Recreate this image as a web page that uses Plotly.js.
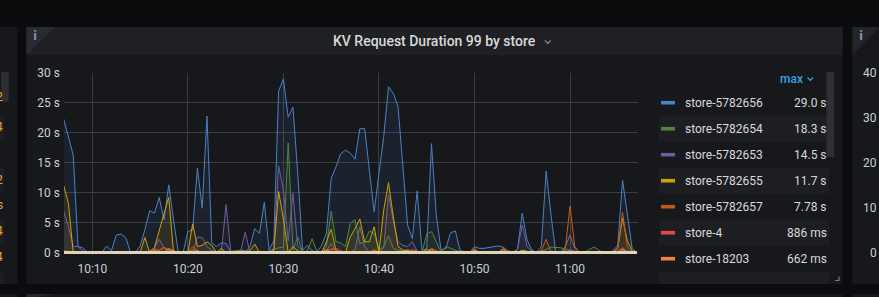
<!DOCTYPE html>
<html><head><meta charset="utf-8">
<script src="https://cdn.plot.ly/plotly-3.0.1.min.js"></script>
<style>html,body{margin:0;padding:0;background:#0b0c0e;overflow:hidden}#chart{width:879px;height:297px}</style>
</head><body><div id="chart"></div>
<script>
// ---------------- data ----------------
const chartTitle = 'KV Request Duration 99 by store';
const startClock = [10, 7, 0];      // first sample 10:07:00
const stepSeconds = 30;
const dayPrefix = '2020-06-01 ';
const xTickLabelsFormat = '%H:%M';
const yTickSuffix = ' s';

const seriesNames = ['store-5782656','store-5782654','store-5782653','store-5782655','store-5782657','store-4','store-18203'];
const seriesColors = ['#4a82c3','#508642','#705da0','#cca300','#c15c17','#e24d42','#ef843c'];

const store5782656 = [
 22.3,19.3,16.3,1.0,0.8,0,0,0,0,1.1,
 0.3,2.9,3.1,2.5,0,0,1.1,3.8,7.0,6.6,
 9.2,5.5,11.3,5.4,0,0,3.5,3.8,14.1,7.4,
 22.8,1.6,1.0,1.6,1.5,0,0,0.4,0,1.0,
 4.0,3.2,8.4,0.4,2.0,27.0,29.0,22.6,24.3,13.2,
 0.4,1.2,0.3,0.1,1.2,3.2,12.4,14.3,16.5,17.1,
 16.6,15.6,20.7,20.7,13.8,6.8,13.2,19.4,27.7,26.6,
 24.4,14.9,4.6,2.3,10.3,0.4,0.6,18.2,6.3,0.4,
 0.7,3.3,3.6,0.3,0.1,0,1.0,0.7,0.7,0.8,
 1.0,1.1,0.9,0.3,0.1,0.5,6.6,2.1,0.4,0,
 1.0,13.6,6.5,0,0,1.0,2.9,0.7,0,0,
 0,0.2,0,0.1,0,0.3,1.2,12.1,6.5,0.7,0];
const store5782654 = [
 0,0,0,0,0,0,0,0,0,0,
 0,0,0,0,0,0,0,0,0,0.1,
 0.2,0.1,0,0,0,0,0,0,0,0,
 0,0,0,0,0.1,0.2,0.3,0.4,0.3,0.2,
 0,0,0,0.2,0.5,0.8,0.9,18.3,0.5,2.6,
 0,0.3,2.3,0.2,0,1.0,6.9,1.8,1.6,1.0,
 4.9,5.5,1.5,1.8,3.6,3.2,0.4,1.0,2.8,0.7,
 0.4,0.3,0.5,0.2,0.1,0,3.1,3.5,1.8,0.1,
 1.0,0.7,0.3,0.1,0,0,0,0,0,0,
 0,0,0,0,0,0,0.2,0.1,0,0,
 0.3,0.5,0.9,0.9,0.8,0.6,0.3,0.1,0,0,
 0.5,0.9,0.4,0,0,0,0,0.2,0,0,0];
const store5782653 = [
 6.9,4.3,1.0,1.0,0.3,0,0,0,0,0,
 0,0,0,0,0,0,0,0,0.3,0.8,
 2.2,0.8,0.5,0.3,0,0,0,0,2.6,2.5,
 1.0,0.4,0,0,8.0,0,0,0,3.4,0,
 0,0,0,0,0.8,14.5,10.4,2.0,9.9,1.0,
 0.3,0,0,0,0,0.3,1.5,0.4,0,0,
 0,0.5,4.3,1.0,0,0,0,0.8,9.6,5.4,
 1.8,1.2,1.0,1.8,0.2,0,0,0,0,0,
 0,0,0,0,0,0,0,0,0,0,
 0,0,0,0,0,0.5,4.6,1.0,0.2,0,
 0,0,0,0,0,0,0.5,0.3,0,0,
 0,0,0,0,0,0,0.2,0.8,0.3,0,0];
const store5782655 = [
 11.2,8.2,0,0,0,0,0,0,0,0,
 0,0,0,0,0,0,0,2.5,0,0.8,
 3.8,6.5,9.2,0,0,0,0,4.8,1.0,1.2,
 1.8,1.2,0,0.7,0,0,0,0,0,0.3,
 1.4,0,0,0,0.4,10.2,5.6,0,1.0,0.3,
 0,0,0,0,0,1.8,3.9,0.4,0,0,
 2.6,4.0,5.6,1.8,1.8,4.3,0,7.1,11.7,6.0,
 1.0,0.4,0.3,0.2,0,0,0.5,0.2,0,0,
 0,0,0,0,0,0,0.3,0,0,0.2,
 0.1,0,0.2,0,0,0,0.4,0.2,0,0,
 0,0,0,0,0,0,0,0,0,0,
 0,0,0,0,0,0,0.8,5.7,2.0,0.3,0];
const store5782657 = [
 0.3,0.2,0,0,0,0,0,0,0,0,
 0,0,0,0,0,0,0,0,0.3,0.6,
 0.4,0.8,0.5,0.2,0,0,0,1.0,0.3,0,
 0,0,0,0,0,0,0,0,0,0,
 0,0,0,0,0,0,0,0,0,0,
 0,0,0,0,0,0.4,0.5,0.4,0,0,
 0,0,0,0,0,0.3,0.2,0,0,0,
 0,0,0,0.3,0,0,0,0.7,0.3,0,
 0,0,0,0,0,0,0.7,0,0,0,
 0,0,0.7,0,0,0,0,0,0,0,
 0.3,2.2,0.2,0,0,0.5,7.78,1.0,0,0,
 0,0,0,0,0,0,0.6,6.7,1.0,0,0];
const store4 = [
 0,0,0,0,0,0,0,0,0,0,
 0,0,0,0,0,0,0,0,0,0,
 0.4,0.886,0.3,0,0,0,0,0.5,0.2,0,
 0,0,0,0,0,0,0,0,0,0,
 0,0,0,0,0,0,0,0,0,0,
 0,0,0,0,0,0,0.6,0.7,0.3,0,
 0,0,0,0,0,0.5,0,0,0,0,
 0,0,0,0.5,0.2,0,0,0,0,0,
 0,0,0,0,0,0,0,0,0,0,
 0,0,0,0,0,0,0,0,0.3,0,
 0,0,0,0,0,0.3,0,0,0,0,
 0,0,0,0,0,0,0,0.6,0,0,0];
const store18203 = [
 0,0,0,0,0,0,0,0,0,0,
 0,0,0,0,0,0,0,0,0,0.4,
 0,0,0.662,0.3,0,0,0,0,0.3,0,
 0,0,0,0,0,0,0,0,0,0,
 0,0,0,0,0,0,0,0,0,0,
 0,0,0,0,0,0.5,0,0,0,0,
 0,0,0,0,0,0,0,0,0,0,
 0,0,0,0,0,0,0,0.6,0,0,
 0,0,0,0,0,0,0.4,0,0,0,
 0,0,0.5,0,0,0,0,0,0,0,
 0,0,0,0,0,0,0,0,0,0,
 0,0,0,0,0,0,0,0.5,0,0,0];
// the many other stores that sit on 0 (drawn as the pale band)
const otherStoresName = 'store-other';
const otherStoresColor = '#e2d5b6';
const otherStores = [
 0,0,0,0,0,0,0,0,0,0, 0,0,0,0,0,0,0,0,0,0, 0,0,0,0,0,0,0,0,0,0,
 0,0,0,0,0,0,0,0,0,0, 0,0,0,0,0,0,0,0,0,0, 0,0,0,0,0,0,0,0,0,0,
 0,0,0,0,0,0,0,0,0,0, 0,0,0,0,0,0,0,0,0,0, 0,0,0,0,0,0,0,0,0,0,
 0,0,0,0,0,0,0,0,0,0, 0,0,0,0,0,0,0,0,0,0, 0,0,0,0,0,0,0,0,0,0, 0];
const seriesValues = [store5782656,store5782654,store5782653,store5782655,store5782657,store4,store18203];

// neighbouring panels (partly visible text)
const leftPanelDigits = ['2','4','2','s','4','4'];
const rightPanelTicks = ['40','30','20','10','0'];

// ---------------- helpers ----------------
const W = 879, H = 297;
const X = p => p / W;
const Y = p => 1 - p / H;
function pad(n){ return (n < 10 ? '0' : '') + n; }
function clock(sec){ return dayPrefix + pad(Math.floor(sec/3600)) + ':' + pad(Math.floor(sec%3600/60)) + ':' + pad(sec%60); }
const t0 = startClock[0]*3600 + startClock[1]*60 + startClock[2];
const times = store5782656.map((_, i) => clock(t0 + i*stepSeconds));
function hexA(hex, a){ const n = parseInt(hex.slice(1),16); return `rgba(${n>>16},${(n>>8)&255},${n&255},${a})`; }
function fmt(v){ return v >= 1 ? v.toPrecision(3) + ' s' : Math.round(v*1000) + ' ms'; }

const FONT = 'Roboto, "Helvetica Neue", Arial, sans-serif';
const PANEL = '#17181c', HEADER = '#1f2024', BG = '#0b0c0e';

// ---------------- traces ----------------
const traces = seriesValues.map((vals, k) => ({
  type:'scatter', mode:'lines', x:times, y:vals, name:seriesNames[k],
  line:{color:seriesColors[k], width:1}, fill:'tozeroy', fillcolor:hexA(seriesColors[k],0.1),
  hoverinfo:'skip'
}));
traces.push({type:'scatter', mode:'lines', x:times, y:otherStores, name:otherStoresName,
  line:{color:otherStoresColor, width:3}, hoverinfo:'skip'});

// ---------------- shapes ----------------
function rect(x0,y0,x1,y1,color,layer){ return {type:'rect',xref:'paper',yref:'paper',x0:X(x0),x1:X(x1),y0:Y(y1),y1:Y(y0),fillcolor:color,line:{width:0},layer:layer||'below'}; }
function path(pts,fill,stroke,w,layer,closed){
  let d = pts.map((p,i)=>(i?'L':'M')+X(p[0]).toFixed(5)+','+Y(p[1]).toFixed(5)).join(' ') + (closed?' Z':'');
  return {type:'path',xref:'paper',yref:'paper',path:d,fillcolor:fill||'rgba(0,0,0,0)',line:{color:stroke||'rgba(0,0,0,0)',width:w||0},layer:layer||'below'};
}
const shapes = [];
// main panel
shapes.push(rect(26.5,27,842.5,284,PANEL));
shapes.push(rect(26.5,27,842.5,55,HEADER));
shapes.push(path([[26.5,27],[55,27],[26.5,55]],'#292b30',null,0,'below',true));
// left panel
shapes.push(rect(-2,27,17.3,284,PANEL));
[[115,141],[167,193],[219,245],[271,284]].forEach(r=>shapes.push(rect(-2,r[0],4,r[1],'#1d1e22')));
shapes.push(rect(1,72,8.7,101.7,'#2c2e33'));
// right panel
shapes.push(rect(852.5,27,881,284,PANEL));
shapes.push(path([[852.5,27],[880,27],[852.5,55]],'#222428',null,0,'below',true));
// bottom row panels
shapes.push(rect(-2,294,17.3,299,PANEL));
shapes.push(rect(26.5,294,842.5,299,PANEL));
shapes.push(path([[26.5,294],[54,294],[26.5,299]],'#26282c',null,0,'below',true));
shapes.push(rect(852.5,294,881,299,PANEL));
// legend stripes
const rowY0 = 102.7, rowStep = 26;
for (let r = 1; r < 8; r += 2) shapes.push(rect(659,rowY0+r*rowStep-13,829,Math.min(rowY0+r*rowStep+13,284),'#1d1e22'));
// legend swatches
seriesColors.forEach((c,k)=>shapes.push(rect(661,rowY0+k*rowStep-1.8,675,rowY0+k*rowStep+1.8,c)));
// legend scrollbar
shapes.push(rect(826.5,72,834,157,'#2e3035','above'));
// chevrons
shapes.push(path([[545,40.5],[547.8,43.3],[550.6,40.5]],null,'#8e8e8e',1.2,'above'));
shapes.push(path([[807.5,77.5],[810.3,80.3],[813.1,77.5]],null,'#33a2e5',1.2,'above'));
// resize handle
shapes.push(path([[839,276.5],[839,280.5],[835,280.5]],null,'#7b7c80',1.2,'above'));

// ---------------- annotations ----------------
function txt(text,x,y,xa,size,color,extra){
  return Object.assign({text,xref:'paper',yref:'paper',x:X(x),y:Y(y),xanchor:xa,yanchor:'middle',showarrow:false,
    borderpad:0,borderwidth:0,font:{family:FONT,size:size,color:color}},extra||{});
}
const annotations = [];
annotations.push(txt(chartTitle,434,41.5,'center',14,'#d8d9da',{font:{family:FONT,size:14,color:'#d8d9da',weight:500}}));
annotations.push(txt('<b>i</b>',35,36,'center',12,'#7e8fae',{font:{family:'"DejaVu Sans", sans-serif',size:12,color:'#7e8fae'}}));
annotations.push(txt('<b>i</b>',861,36,'center',12,'#7e8fae',{font:{family:'"DejaVu Sans", sans-serif',size:12,color:'#7e8fae'}}));
annotations.push(txt('max',802.5,79,'right',12,'#33a2e5',{font:{family:FONT,size:12,color:'#33a2e5',weight:500}}));
seriesNames.forEach((n,k)=>{
  annotations.push(txt(n,685.3,rowY0+k*rowStep,'left',12,'#d8d9da'));
  annotations.push(txt(fmt(Math.max(...seriesValues[k])),827,rowY0+k*rowStep,'right',12,'#d8d9da'));
});
rightPanelTicks.forEach((t,k)=>annotations.push(txt(t,877,72.7+k*45,'right',12,'#c7d0d9')));
[97,127,180,205,231,257].forEach((y,k)=>annotations.push(txt(leftPanelDigits[k],3,y,'right',12,'#e0a52a')));

// ---------------- layout ----------------
const layout = {
  width:W, height:H, margin:{l:0,r:0,t:0,b:0,pad:0},
  paper_bgcolor:BG, plot_bgcolor:'rgba(0,0,0,0)', showlegend:false,
  font:{family:FONT,size:12,color:'#c7d0d9'},
  xaxis:{type:'date', domain:[X(64),X(638)], range:[dayPrefix+'10:07:02', dayPrefix+'11:07:07'],
    tick0:dayPrefix+'10:10:00', dtick:600000, tickformat:xTickLabelsFormat,
    showgrid:true, gridcolor:'#3c3d41', gridwidth:1, zeroline:false, showline:false, ticks:'',
    ticklabelstandoff:5, tickfont:{family:FONT,size:12,color:'#c7d0d9'}, fixedrange:true},
  yaxis:{domain:[Y(254.5),Y(73)], range:[-0.33,30], tick0:0, dtick:5, ticksuffix:yTickSuffix,
    showgrid:true, gridcolor:'#3c3d41', gridwidth:1, zeroline:false, showline:false, ticks:'',
    ticklabelstandoff:3, tickfont:{family:FONT,size:12,color:'#c7d0d9'}, fixedrange:true},
  shapes, annotations
};
Plotly.newPlot('chart', traces, layout, {displayModeBar:false, staticPlot:true});
</script></body></html>
